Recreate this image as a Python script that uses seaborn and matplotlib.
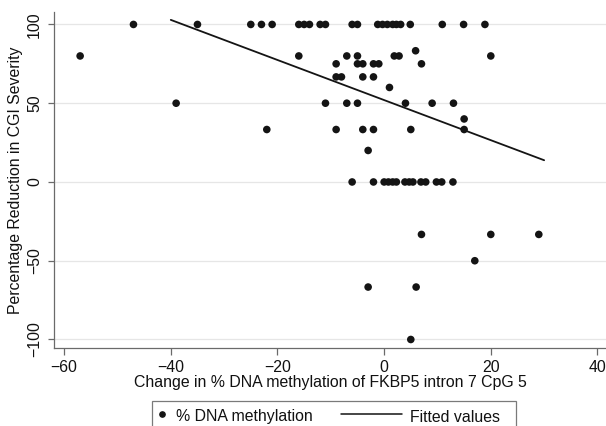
import matplotlib
matplotlib.use("Agg")
import matplotlib.pyplot as plt
from matplotlib.lines import Line2D
from matplotlib.patches import Rectangle
import pandas as pd
import seaborn as sns

# change in % DNA methylation (x) vs % reduction in CGI severity (y), read row by row
meth_change = [
    -47, -35, -25, -23, -21, -16, -15, -14, -12, -11, -6, -5,
    -1.2, -0.3, 0.6, 1.6, 2.3, 3.1, 4.9, 10.9, 14.9, 18.9,
    5.9,
    -57, -16, -7, -5, 1.9, 2.8, 20,
    -9, -5, -4, -2, -1, 7,
    -9, -8, -4, -2,
    1,
    -39, -11, -7, -5, 4, 9, 13,
    15,
    -22, -9, -4, -2, 5, 15,
    -3,
    -6, -2, 0, 0.8, 1.6, 2.3, 3.9, 4.7, 5.4, 6.9, 7.8, 9.8, 10.8, 12.9,
    7, 20, 29,
    17,
    -3, 6,
    5,
]
cgi_reduction = [
    100, 100, 100, 100, 100, 100, 100, 100, 100, 100, 100, 100,
    100, 100, 100, 100, 100, 100, 100, 100, 100, 100,
    83.3,
    80, 80, 80, 80, 80, 80, 80,
    75, 75, 75, 75, 75, 75,
    66.7, 66.7, 66.7, 66.7,
    60,
    50, 50, 50, 50, 50, 50, 50,
    40,
    33.3, 33.3, 33.3, 33.3, 33.3, 33.3,
    20,
    0, 0, 0, 0, 0, 0, 0, 0, 0, 0, 0, 0, 0, 0,
    -33.3, -33.3, -33.3,
    -50,
    -66.7, -66.7,
    -100,
]

# fitted regression line, as drawn
fit_x = [-40, 30]
fit_y = [102.9, 13.8]

x_ticks = [-60, -40, -20, 0, 20, 40]
y_ticks = [-100, -50, 0, 50, 100]

df = pd.DataFrame({"meth": meth_change, "cgi": cgi_reduction})
fit = pd.DataFrame({"x": fit_x, "y": fit_y})

sns.set_style("white")
plt.rcParams["font.family"] = ["Liberation Sans", "DejaVu Sans"]

FS = 11.4
W, H = 606, 426
fig = plt.figure(figsize=(W / 100, H / 100), dpi=100)
ax = fig.add_axes([54 / W, 1 - 348 / H, 1 - 54 / W, (348 - 12) / H])

sns.scatterplot(data=df, x="meth", y="cgi", ax=ax, color="#141414",
                s=30, edgecolor="none", zorder=3)
sns.lineplot(data=fit, x="x", y="y", ax=ax, color="#141414", lw=1.3, zorder=4)

ax.set_xlim(-61.9, 41.6)
ax.set_ylim(-105.4, 107.9)
ax.set_xticks(x_ticks)
ax.set_yticks(y_ticks)
ax.yaxis.grid(True, color="#e6e6e6", lw=0.9)
ax.set_axisbelow(True)

for side in ["top", "right"]:
    ax.spines[side].set_visible(False)
for side in ["left", "bottom"]:
    ax.spines[side].set_color("#6a6a6a")
    ax.spines[side].set_linewidth(0.9)

ax.tick_params(axis="both", direction="out", width=0.9,
               color="#6a6a6a", labelsize=FS, labelcolor="#111111")
ax.tick_params(axis="x", length=5, pad=3.5, bottom=True)
ax.tick_params(axis="y", length=4.2, pad=4.5, left=True)
for lab in ax.get_yticklabels():
    lab.set_rotation(90)
    lab.set_va("center")

ax.set_xlabel("Change in % DNA methylation of FKBP5 intron 7 CpG 5",
              fontsize=FS, labelpad=0, color="#111111")
ax.set_ylabel("Percentage Reduction in CGI Severity", fontsize=FS,
              labelpad=3, color="#111111")

# legend box, cut off by the bottom edge like the original
fig.patches.append(Rectangle((152 / W, -0.03), 364 / W, 0.03 + 1 - 401 / H,
                             transform=fig.transFigure, fill=False,
                             edgecolor="#7a7a7a", lw=0.9))
ymid = 1 - 414 / H
fig.lines.append(Line2D([162 / W], [ymid], transform=fig.transFigure,
                        marker="o", ms=3.8, color="#141414", lw=0))
fig.lines.append(Line2D([341 / W, 402 / W], [ymid, ymid],
                        transform=fig.transFigure, color="#141414", lw=1.1))
fig.text(176 / W, 1 - 421.5 / H, "% DNA methylation", fontsize=FS,
         va="baseline", color="#111111")
fig.text(410 / W, 1 - 421.5 / H, "Fitted values", fontsize=FS,
         va="baseline", color="#111111")

fig.savefig("out.png", dpi=100)
